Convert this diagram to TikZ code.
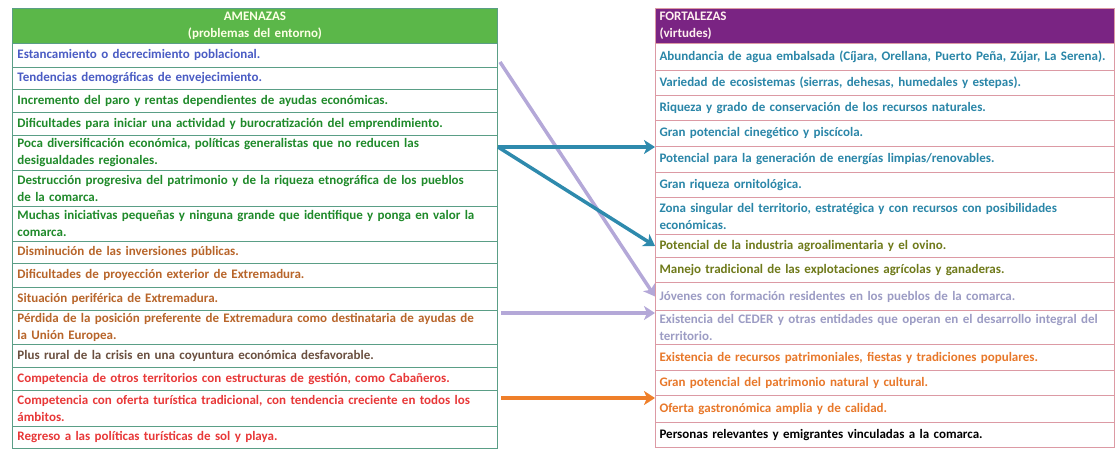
\documentclass[tikz,border=0pt]{standalone}
\usepackage{fontspec}
\setmainfont{Carlito}[BoldFont={Carlito Bold}]
\usetikzlibrary{arrows.meta}

\definecolor{amhead}{HTML}{5BB749}
\definecolor{amline}{HTML}{5A9E86}
\definecolor{amblue}{HTML}{4A5CC4}
\definecolor{amgreen}{HTML}{1F8A2A}
\definecolor{amorange}{HTML}{B8652A}
\definecolor{ambrown}{HTML}{6B5040}
\definecolor{amred}{HTML}{E83838}
\definecolor{fohead}{HTML}{7A2483}
\definecolor{foline}{HTML}{DC9AA4}
\definecolor{foteal}{HTML}{2A86A8}
\definecolor{foolive}{HTML}{6F7A1A}
\definecolor{folav}{HTML}{9C9CC4}
\definecolor{foorange}{HTML}{E8782A}
\definecolor{arrlav}{HTML}{B4A8D8}
\definecolor{arrteal}{HTML}{2E8AAD}
\definecolor{arrorange}{HTML}{EF7F2A}

\tikzset{
  cell/.style={anchor=north west, inner xsep=5pt, inner ysep=0pt, align=left,
    font=\fontsize{13}{17}\selectfont\bfseries},
  amrow/.style={cell, draw=amline, line width=0.9pt, fill=white,
    minimum width=485pt, text width=475pt},
  forow/.style={cell, draw=foline, line width=1pt, fill=white,
    minimum width=459pt, text width=451pt, inner xsep=4pt},
  arr/.style={line width=3.5pt, -{Stealth[length=11pt,width=14pt,inset=3pt]}}
}

\begin{document}
\begin{tikzpicture}[x=1pt,y=-1pt]
\useasboundingbox (0,0) rectangle (1116,449);

% AMENAZAS
\node [amrow, fill=amhead, minimum height=35pt, align=center, text=green!8!yellow!10!white] (amh) at (12,8) {AMENAZAS\\(problemas del entorno)};
\node [amrow, minimum height=24pt, text=amblue] (am1) at (12,43) {Estancamiento o decrecimiento poblacional.};
\node [amrow, minimum height=22pt, text=amblue] (am2) at (12,67) {Tendencias demográficas de envejecimiento.};
\node [amrow, minimum height=23pt, text=amgreen] (am3) at (12,89) {Incremento del paro y rentas dependientes de ayudas económicas.};
\node [amrow, minimum height=23pt, text=amgreen] (am4) at (12,112) {Dificultades para iniciar una actividad y burocratización del emprendimiento.};
\node [amrow, minimum height=35pt, text=amgreen] (am5) at (12,135) {Poca diversificación económica, políticas generalistas que no reducen las\\desigualdades regionales.};
\node [amrow, minimum height=36pt, text=amgreen] (am6) at (12,170) {Destrucción progresiva del patrimonio y de la riqueza etnográfica de los pueblos\\de la comarca.};
\node [amrow, minimum height=35pt, text=amgreen] (am7) at (12,206) {Muchas iniciativas pequeñas y ninguna grande que identifique y ponga en valor la\\comarca.};
\node [amrow, minimum height=22pt, text=amorange] (am8) at (12,241) {Disminución de las inversiones públicas.};
\node [amrow, minimum height=24pt, text=amorange] (am9) at (12,263) {Dificultades de proyección exterior de Extremadura.};
\node [amrow, minimum height=23pt, text=amorange] (am10) at (12,287) {Situación periférica de Extremadura.};
\node [amrow, minimum height=34pt, text=amorange] (am11) at (12,310) {Pérdida de la posición preferente de Extremadura como destinataria de ayudas de\\la Unión Europea.};
\node [amrow, minimum height=23pt, text=ambrown] (am12) at (12,344) {Plus rural de la crisis en una coyuntura económica desfavorable.};
\node [amrow, minimum height=23pt, text=amred] (am13) at (12,367) {Competencia de otros territorios con estructuras de gestión, como Cabañeros.};
\node [amrow, minimum height=36pt, text=amred] (am14) at (12,390) {Competencia con oferta turística tradicional, con tendencia creciente en todos los\\ámbitos.};
\node [amrow, minimum height=22pt, text=amred] (am15) at (12,426) {Regreso a las políticas turísticas de sol y playa.};

% FORTALEZAS
\node [forow, fill=fohead, minimum height=35pt, text=red!6!white] (foh) at (655,8) {FORTALEZAS\\(virtudes)};
\node [forow, minimum height=27pt, text=foteal] (fo1) at (655,43) {Abundancia de agua embalsada (Cíjara, Orellana, Puerto Peña, Zújar, La Serena).};
\node [forow, minimum height=25pt, text=foteal] (fo2) at (655,70) {Variedad de ecosistemas (sierras, dehesas, humedales y estepas).};
\node [forow, minimum height=25pt, text=foteal] (fo3) at (655,95) {Riqueza y grado de conservación de los recursos naturales.};
\node [forow, minimum height=26pt, text=foteal] (fo4) at (655,120) {Gran potencial cinegético y piscícola.};
\node [forow, minimum height=26pt, text=foteal] (fo5) at (655,146) {Potencial para la generación de energías limpias/renovables.};
\node [forow, minimum height=25pt, text=foteal] (fo6) at (655,172) {Gran riqueza ornitológica.};
\node [forow, minimum height=37pt, text=foteal] (fo7) at (655,197) {Zona singular del territorio, estratégica y con recursos con posibilidades\\económicas.};
\node [forow, minimum height=23pt, text=foolive] (fo8) at (655,234) {Potencial de la industria agroalimentaria y el ovino.};
\node [forow, minimum height=25pt, text=foolive] (fo9) at (655,257) {Manejo tradicional de las explotaciones agrícolas y ganaderas.};
\node [forow, minimum height=28pt, text=folav] (fo10) at (655,282) {Jóvenes con formación residentes en los pueblos de la comarca.};
\node [forow, minimum height=34pt, text=folav] (fo11) at (655,310) {Existencia del CEDER y otras entidades que operan en el desarrollo integral del\\territorio.};
\node [forow, minimum height=26pt, text=foorange] (fo12) at (655,344) {Existencia de recursos patrimoniales, fiestas y tradiciones populares.};
\node [forow, minimum height=25pt, text=foorange] (fo13) at (655,370) {Gran potencial del patrimonio natural y cultural.};
\node [forow, minimum height=27pt, text=foorange] (fo14) at (655,395) {Oferta gastronómica amplia y de calidad.};
\node [forow, minimum height=25pt, text=black] (fo15) at (655,422) {Personas relevantes y emigrantes vinculadas a la comarca.};

% arrows
\coordinate (lav1) at (500,62);
\coordinate (teal1) at (498,147);
\coordinate (lav2) at (501,313);
\coordinate (or1) at (501,398);
\draw [arr, arrlav] (lav1) -- (fo10.west);
\draw [arr, arrteal] (teal1) -- (teal1 -| fo5.west);
\draw [arr, arrteal] (teal1) -- (fo8.west);
\draw [arr, arrlav] (lav2) -- (lav2 -| fo11.west);
\draw [arr, arrorange] (or1) -- (or1 -| fo14.west);
\end{tikzpicture}
\end{document}
